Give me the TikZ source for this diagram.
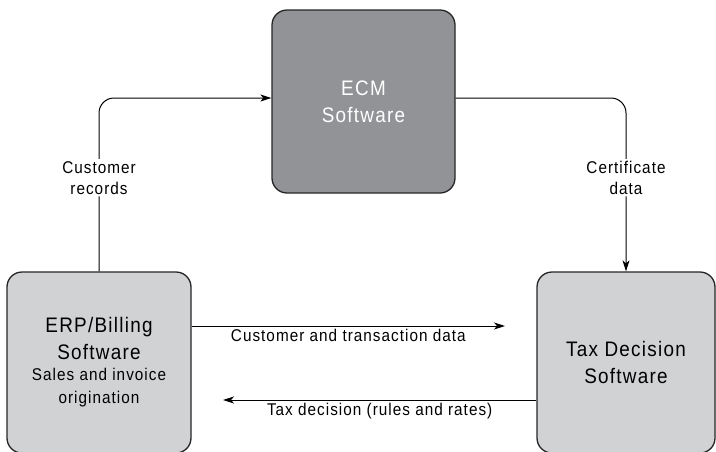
\documentclass[tikz,border=0pt]{standalone}
\usepackage{fontspec}
\setmainfont[FakeStretch=0.9,LetterSpace=6]{Liberation Sans}
\usetikzlibrary{arrows.meta}

\definecolor{ecmgray}{RGB}{146,147,151}
\definecolor{boxgray}{RGB}{209,210,212}
\newcommand{\erpsub}{\fontsize{17}{22}\selectfont}

\tikzset{
  sysbox/.style={draw=black!85, line width=1.3pt, rounded corners=15pt,
    minimum width=184pt, minimum height=181pt, align=center,
    font=\fontsize{21}{27}\selectfont},
  flow/.style={line width=1pt, rounded corners=15pt,
    -{Stealth[length=11pt,width=7pt,inset=3pt]}},
  lbl/.style={font=\fontsize{17}{21}\selectfont, align=center, inner sep=2pt},
}

\begin{document}
\begin{tikzpicture}[x=1pt,y=-1pt]
  \useasboundingbox (0,0) rectangle (716,451);

  % --- Systems ---
  \node[sysbox, fill=ecmgray, text=white, minimum width=183pt, minimum height=183pt]
    (ecm) at (363.5,101.5) {ECM\\Software};
  \node[sysbox, fill=boxgray] (erp) at (99,362.5)
    {ERP/Billing\\Software\\[-6pt]\erpsub Sales and invoice\\[-4pt]\erpsub origination};
  \node[sysbox, fill=boxgray, minimum width=178pt] (tax) at (626,362.5)
    {Tax Decision\\Software};

  % --- Flows over the top ---
  \draw[flow] (erp.north) |- node[lbl, pos=0.27, fill=white] (custrec)
    {Customer\\records} ([yshift=3.5pt]ecm.west);
  \draw[flow] ([yshift=3.5pt]ecm.east) -| node[lbl, pos=0.73, fill=white] (certdata)
    {Certificate\\data} (tax.north);

  % --- Flows between ERP and tax engine ---
  \coordinate (cdend) at (505,326);
  \draw[flow] (erp.east |- cdend) -- node[lbl, below=1pt] (cdlbl)
    {Customer and transaction data} (cdend);

  \coordinate (tdend) at (223,400);
  \draw[flow] (tax.west |- tdend) -- node[lbl, below=1pt] (tdlbl)
    {Tax decision (rules and rates)} (tdend);
\end{tikzpicture}
\end{document}
